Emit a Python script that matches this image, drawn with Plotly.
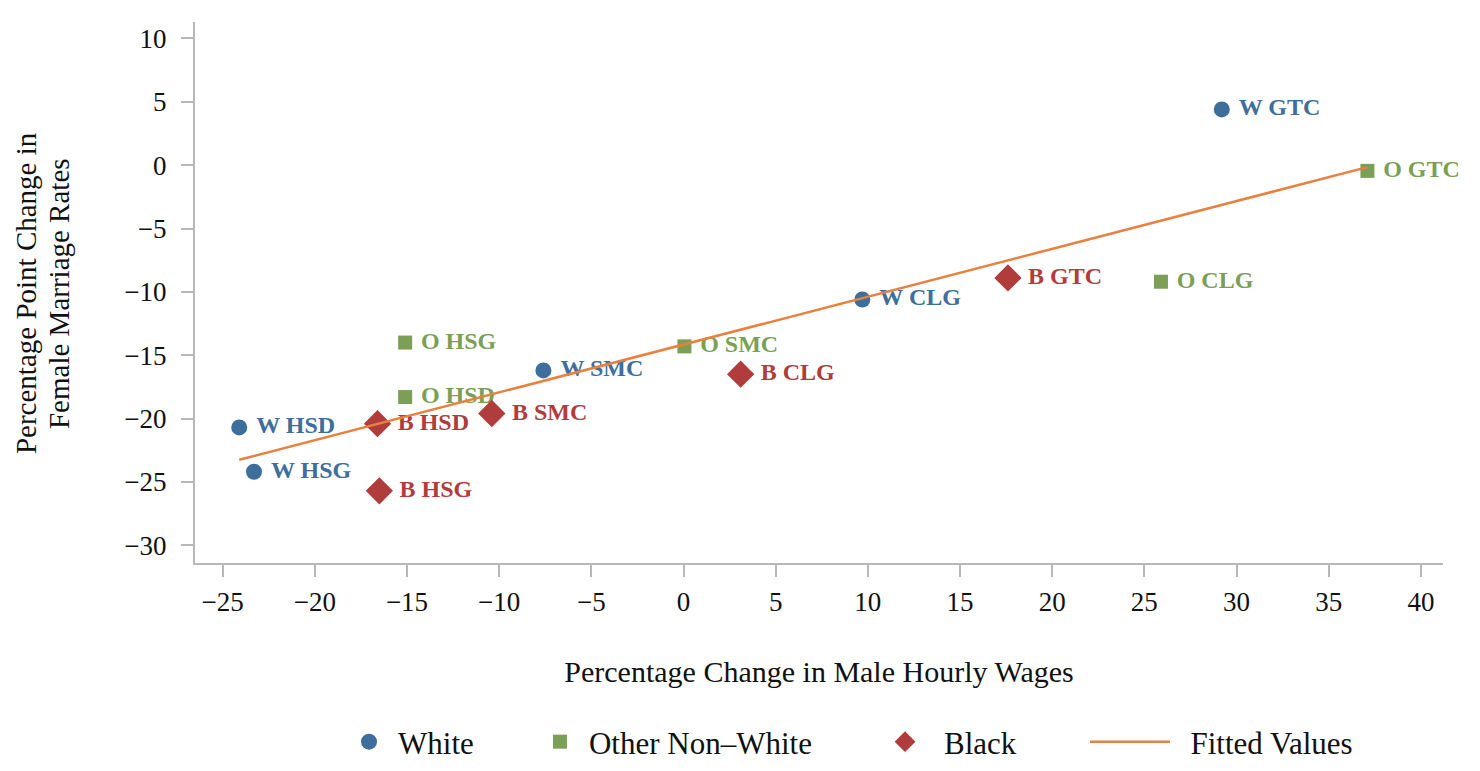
import numpy as np
import plotly.graph_objects as go

# percentage change in male hourly wages (x) vs pp change in female marriage rates (y)
white_lbl = ['W GTC', 'W CLG', 'W SMC', 'W HSD', 'W HSG']
white_x = [29.2, 9.7, -7.6, -24.1, -23.3]
white_y = [4.4, -10.6, -16.2, -20.7, -24.2]

other_lbl = ['O GTC', 'O CLG', 'O HSG', 'O SMC', 'O HSD']
other_x = [37.1, 25.9, -15.1, 0.05, -15.1]
other_y = [-0.45, -9.2, -14.0, -14.3, -18.3]

black_lbl = ['B GTC', 'B CLG', 'B SMC', 'B HSD', 'B HSG']
black_x = [17.6, 3.1, -10.4, -16.6, -16.5]
black_y = [-8.9, -16.5, -19.6, -20.4, -25.7]

x_ticks = [-25, -20, -15, -10, -5, 0, 5, 10, 15, 20, 25, 30, 35, 40]
y_ticks = [10, 5, 0, -5, -10, -15, -20, -25, -30]

BLUE = '#3d6e9c'
GREEN = '#7b9f55'
RED = '#b03c3c'
ORANGE = '#e8803f'
FONT = 'Liberation Serif'

# OLS fit over all groups
all_x = np.array(white_x + other_x + black_x)
all_y = np.array(white_y + other_y + black_y)
slope, intercept = np.polyfit(all_x, all_y, 1)
fit_x = np.array([all_x.min(), all_x.max()])
fit_y = intercept + slope * fit_x

fig = go.Figure()


def add_group(xs, ys, labels, name, color, symbol, size, legend):
    fig.add_trace(go.Scatter(
        x=xs, y=ys, text=labels, name=name, legend=legend,
        mode='markers+text', textposition='middle right',
        texttemplate='\u00a0%{text}', cliponaxis=False,
        marker=dict(color=color, symbol=symbol, size=size),
        textfont=dict(family=FONT, size=24, color=color, weight='bold'),
    ))


add_group(white_x, white_y, white_lbl, 'White', BLUE, 'circle', 16, 'legend')
add_group(other_x, other_y, other_lbl, 'Other Non–White', GREEN, 'square', 14, 'legend2')
add_group(black_x, black_y, black_lbl, 'Black', RED, 'diamond', 21, 'legend3')

fig.add_trace(go.Scatter(
    x=fit_x, y=fit_y, mode='lines', name='\u00a0\u00a0Fitted Values',
    legend='legend4', line=dict(color=ORANGE, width=2.5),
))

axis_common = dict(
    showgrid=False, zeroline=False, showline=True, automargin=False,
    linecolor='#b8b8b8', linewidth=2,
    ticks='outside', tickcolor='#b8b8b8', ticklen=12, tickwidth=2,
    tickfont=dict(family=FONT, size=27, color='#111'),
)

leg_common = dict(
    orientation='h', yref='container', y=0.038, yanchor='middle', xanchor='left',
    font=dict(family=FONT, size=31, color='#111'),
    bgcolor='rgba(0,0,0,0)',
)

fig.update_layout(
    width=1464, height=763,
    paper_bgcolor='white', plot_bgcolor='white',
    margin=dict(l=187, r=29, t=14, b=208, autoexpand=False),
    font=dict(family=FONT, size=24, color='#111'),
    xaxis=dict(
        range=[-26.5, 41.2], tickvals=x_ticks,
        ticktext=[str(v).replace('-', '−') for v in x_ticks],
        ticklabelstandoff=2,
        title=dict(text='Percentage Change in Male Hourly Wages',
                   font=dict(family=FONT, size=30), standoff=45),
        **axis_common,
    ),
    yaxis=dict(
        range=[-31.4, 11.3], tickvals=y_ticks,
        ticktext=[str(v).replace('-', '−') for v in y_ticks],
        ticklabelstandoff=9,
        **axis_common,
    ),
    legend=dict(x=0.1162, itemwidth=48, **leg_common),
    legend2=dict(x=0.2692, itemwidth=48, **leg_common),
    legend3=dict(x=0.5377, itemwidth=68, **leg_common),
    legend4=dict(x=0.7131, itemwidth=80, **leg_common),
    showlegend=True,
)

# y title as two separate lines to keep the tight line spacing
for txt, xp in [('Percentage Point Change in', -0.1354), ('Female Marriage Rates', -0.109)]:
    fig.add_annotation(
        text=txt, x=xp, y=0.499, xref='paper', yref='paper',
        textangle=-90, showarrow=False, xanchor='center', yanchor='middle',
        font=dict(family=FONT, size=29, color='#111'),
    )

fig.write_html('out.html')
